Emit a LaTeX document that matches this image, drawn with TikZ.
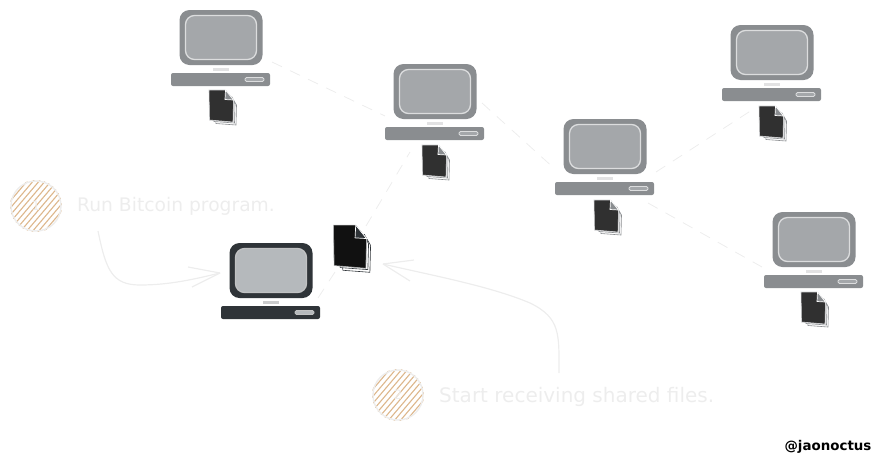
\documentclass[tikz,border=0pt]{standalone}
\usepackage{fontspec}
\setmainfont{DejaVu Sans}
\usepackage{xcolor}
\usetikzlibrary{calc,arrows.meta,positioning}
\definecolor{darkc}{HTML}{2F3438}
\definecolor{screenc}{HTML}{B5B9BC}
\definecolor{fadec}{HTML}{8A8D90}
\definecolor{fadescr}{HTML}{A4A7AA}
\definecolor{paperc}{HTML}{111111}
\definecolor{fadepaper}{HTML}{303030}
\definecolor{linec}{HTML}{EDEDED}
\definecolor{hachc}{HTML}{DDB78C}
\tikzset{
  link/.style={linec,line width=0.8pt,dash pattern=on 11pt off 9pt},
  note/.style={linec,line width=1.2pt},
  notetext/.style={text=linec,anchor=west,inner sep=0pt},
  badge/.style={draw=linec,line width=1.4pt},
  badgetext/.style={text=linec,font=\fontsize{13}{15}\selectfont,inner sep=0pt},
  pics/computer/.style n args={2}{code={
    \fill[white] (-43.5,-1.5) rectangle (43.5,56.5);
    \fill[#2,rounded corners=10pt] (-41.5,0) rectangle (41.5,55);
    \draw[white!70!#2,fill=#1,line width=1.3pt,rounded corners=9pt] (-35.5,5.5) rectangle (35.5,49.5);
    \fill[white!75!#2] (-8,58) rectangle (8,60.5);
    \fill[#2,rounded corners=2pt] (-50,63) rectangle (49,76);
    \draw[white!70!#2,fill=#1,line width=0.9pt,rounded corners=1.5pt] (24,67.5) rectangle (43,71.5);
  }},
  pics/paper/.style n args={2}{code={
    \draw[#2,fill=white,line width=0.6pt] (-9,-10) -- (11,-8) -- (14.5,-2) -- (14,18) -- (-6,16.5) -- cycle;
    \draw[#2,fill=white,line width=0.6pt] (-10.5,-12) -- (10,-10) -- (13,-3) -- (12.5,16) -- (-8,14.5) -- cycle;
    \draw[white!60!#2,fill=#1,line width=0.6pt] (-13,-17) -- (-12.5,13) -- (11,15) -- (11.5,-7) -- (3.5,-17) -- cycle;
    \draw[white,fill=#2,line width=0.7pt] (3.5,-17) -- (3,-7.5) -- (11.5,-7) -- cycle;
  }}
}
\begin{document}
\begin{tikzpicture}[x=1pt,y=-1pt]
\useasboundingbox (0,0) rectangle (882,464);
% dashed links
\coordinate (cmain) at (318,298);
\coordinate (cfile) at (366,226);
\coordinate (bin) at (410,152);
\coordinate (aout) at (272,62);
\coordinate (bout) at (482,103);
\coordinate (cin) at (556,170);
\coordinate (cup) at (656,172);
\coordinate (dlow) at (752,110);
\coordinate (cdown) at (648,203);
\coordinate (elow) at (762,267);
\draw[link] (cfile) -- (bin);
\draw[link] (cmain) -- (335,272);
\draw[link] (aout) -- (385,116);
\draw[link] (bout) -- (cin);
\draw[link] (cup) -- (dlow);
\draw[link] (cdown) -- (elow);
% computers
\pic at (221,10) {computer={fadescr}{fadec}};
\pic at (435,64) {computer={fadescr}{fadec}};
\pic at (605,119) {computer={fadescr}{fadec}};
\pic at (772,25) {computer={fadescr}{fadec}};
\pic at (814,212) {computer={fadescr}{fadec}};
\pic at (271,243) {computer={screenc}{darkc}};
% files
\pic at (222,107) {paper={fadepaper}{fadec}};
\pic at (435,162) {paper={fadepaper}{fadec}};
\pic at (607,217) {paper={fadepaper}{fadec}};
\pic at (772,123) {paper={fadepaper}{fadec}};
\pic at (814,309) {paper={fadepaper}{fadec}};
\pic[scale=1.35] at (351,248) {paper={paperc}{darkc}};
% badges
\foreach \cx/\cy/\num in {36/206/1,398/395/2}{
  \begin{scope}
    \clip (\cx,\cy) circle (26);
    \foreach \d in {-42,-36,...,42}
      \draw[hachc,line width=1.1pt] (\cx+\d-34,\cy+40) -- (\cx+\d+34,\cy-40);
  \end{scope}
  \draw[badge] (\cx,\cy) circle (25);
  \node[badgetext] (num\num) at (\cx,\cy) {\num};
}
\node[notetext,font=\fontsize{18.7}{20}\selectfont] (runtext) at (77,206) {Run Bitcoin program.};
\node[notetext,font=\fontsize{20}{22}\selectfont] (starttext) at (439,397) {Start receiving shared files.};
\node[font=\bfseries\fontsize{13.4}{15}\selectfont,text=black,inner sep=0pt] (handle) at (828,447) {@jaonoctus};
% notes
\coordinate (runarrow) at (98,231);
\coordinate (runhead) at (220,273);
\coordinate (startarrow) at (559,373);
\coordinate (starthead) at (383,264);
\draw[note] (runarrow) .. controls (106,270) and (112,285) .. (140,285) .. controls (170,285) and (195,279) .. (runhead);
\draw[note] (runhead) -- (188,267);
\draw[note] (runhead) -- (192,287);
\draw[note] (startarrow) .. controls (559,335) and (561,318) .. (530,303) .. controls (490,286) and (430,275) .. (starthead);
\draw[note] (starthead) -- (414,260);
\draw[note] (starthead) -- (410,281);
\end{tikzpicture}
\end{document}
